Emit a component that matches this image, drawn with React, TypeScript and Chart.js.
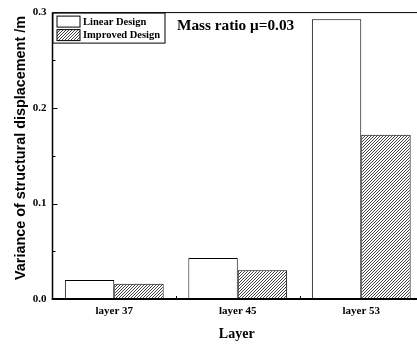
import React, { useEffect, useRef } from "react";
import { Chart, registerables } from "chart.js";

Chart.register(...registerables);

const categories = ["layer 37", "layer 45", "layer 53"];
const linearDesign = [0.02, 0.043, 0.293];
const improvedDesign = [0.016, 0.03, 0.172];
const yMin = 0;
const yMax = 0.3;
const yStep = 0.1;
const yMinorTicks = [0.05, 0.15, 0.25];
const legendLabels = ["Linear Design", "Improved Design"];
const annotationText = "Mass ratio \u03bc=0.03";
const xTitle = "Layer";
const yTitle = "Variance of structural displacement /m";

const SERIF = "'Liberation Serif', 'Times New Roman', serif";
const SANS = "'Liberation Sans', Arial, sans-serif";

function makeHatch(): CanvasPattern | string {
  const n = 3;
  const c = document.createElement("canvas");
  c.width = n;
  c.height = n;
  const g = c.getContext("2d");
  if (!g) return "#fff";
  g.fillStyle = "#fff";
  g.fillRect(0, 0, n, n);
  g.strokeStyle = "#000";
  g.lineWidth = 0.75;
  g.beginPath();
  g.moveTo(0, n);
  g.lineTo(n, 0);
  g.moveTo(-1, 1);
  g.lineTo(1, -1);
  g.moveTo(n - 1, n + 1);
  g.lineTo(n + 1, n - 1);
  g.stroke();
  const p = g.createPattern(c, "repeat");
  return p || "#fff";
}

export default function App() {
  const ref = useRef<HTMLCanvasElement | null>(null);

  useEffect(() => {
    const canvas = ref.current;
    if (!canvas) return;
    const hatch = makeHatch();

    const decor = {
      id: "decor",
      afterDraw(chart: any) {
        const ctx = chart.ctx;
        const area = chart.chartArea;
        const xs = chart.scales.x;
        const ys = chart.scales.y;
        ctx.save();
        ctx.strokeStyle = "#000";
        // frame top
        ctx.lineWidth = 1;
        ctx.beginPath();
        ctx.moveTo(area.left, area.top);
        ctx.lineTo(area.right, area.top);
        ctx.stroke();
        // left axis
        ctx.lineWidth = 1.5;
        ctx.beginPath();
        ctx.moveTo(area.left, area.top);
        ctx.lineTo(area.left, area.bottom);
        ctx.stroke();
        // y ticks
        ctx.lineWidth = 1;
        for (let v = yMin; v <= yMax + 1e-9; v += yStep) {
          const y = Math.round(ys.getPixelForValue(v)) + 0.5;
          ctx.beginPath();
          ctx.moveTo(area.left, y);
          ctx.lineTo(area.left + 5, y);
          ctx.stroke();
        }
        yMinorTicks.forEach((v) => {
          const y = Math.round(ys.getPixelForValue(v)) + 0.5;
          ctx.beginPath();
          ctx.moveTo(area.left, y);
          ctx.lineTo(area.left + 3, y);
          ctx.stroke();
        });
        // x boundary ticks
        for (let i = 0; i < categories.length - 1; i++) {
          const x =
            Math.round((xs.getPixelForValue(i) + xs.getPixelForValue(i + 1)) / 2) + 0.5;
          ctx.beginPath();
          ctx.moveTo(x, area.bottom);
          ctx.lineTo(x, area.bottom - 3);
          ctx.stroke();
        }
        // bottom axis
        ctx.lineWidth = 2;
        ctx.beginPath();
        ctx.moveTo(area.left - 0.75, area.bottom);
        ctx.lineTo(area.right, area.bottom);
        ctx.stroke();

        // titles
        ctx.fillStyle = "#000";
        ctx.textAlign = "center";
        ctx.textBaseline = "middle";
        ctx.font = `bold 14px ${SERIF}`;
        ctx.fillText(xTitle, (area.left + 423) / 2 - 1, 334);
        ctx.save();
        ctx.translate(21.5, 148);
        ctx.rotate(-Math.PI / 2);
        ctx.font = `bold 14.4px ${SANS}`;
        ctx.fillText(yTitle, 0, 0);
        ctx.restore();

        // annotation
        ctx.textAlign = "left";
        ctx.font = `bold 15.3px ${SERIF}`;
        ctx.fillText(annotationText, 177, 26);

        // legend
        const lx = area.left + 0.5;
        const ly = area.top + 0.5;
        ctx.lineWidth = 1;
        ctx.fillStyle = "#fff";
        ctx.fillRect(lx, ly, 112, 30);
        ctx.strokeRect(lx, ly, 112, 30);
        const fills = [chart.data.datasets[0].backgroundColor, chart.data.datasets[1].backgroundColor];
        legendLabels.forEach((lab, i) => {
          const sy = ly + 3 + i * 13.5;
          ctx.fillStyle = fills[i];
          ctx.fillRect(lx + 4, sy, 23, 11);
          ctx.strokeRect(lx + 4, sy, 23, 11);
          ctx.fillStyle = "#000";
          ctx.font = `bold 10.5px ${SERIF}`;
          ctx.textAlign = "left";
          ctx.fillText(lab, lx + 30, sy + 6);
        });
        ctx.restore();
      },
    };

    const chart = new Chart(canvas, {
      type: "bar",
      data: {
        labels: categories,
        datasets: [
          {
            label: legendLabels[0],
            data: linearDesign,
            backgroundColor: "#fff",
            borderColor: "#000",
            borderWidth: 1,
            barPercentage: 1,
            categoryPercentage: 0.8,
          },
          {
            label: legendLabels[1],
            data: improvedDesign,
            backgroundColor: hatch as any,
            borderColor: "#000",
            borderWidth: 1,
            barPercentage: 1,
            categoryPercentage: 0.8,
          },
        ],
      },
      options: {
        responsive: false,
        animation: false,
        devicePixelRatio: 1,
        layout: { padding: { left: 0, top: 12.5, right: 7, bottom: 0 } },
        plugins: { legend: { display: false }, tooltip: { enabled: false } },
        scales: {
          x: {
            grid: { display: false, drawTicks: false },
            border: { display: false },
            ticks: {
              color: "#000",
              font: { family: SERIF, size: 11, weight: "bold" },
              padding: 6,
            },
            afterFit: (s: any) => {
              s.height = 48;
            },
          },
          y: {
            min: yMin,
            max: yMax,
            grid: { display: false, drawTicks: false },
            border: { display: false },
            ticks: {
              stepSize: yStep,
              color: "#000",
              font: { family: SERIF, size: 11, weight: "bold" },
              padding: 6,
              callback: (v: any) => Number(v).toFixed(1),
            },
            afterFit: (s: any) => {
              s.width = 52.5;
            },
          },
        },
      },
      plugins: [decor],
    });
    return () => chart.destroy();
  }, []);

  return (
    <div
      style={{
        position: "absolute",
        left: 0,
        top: 0,
        width: 417,
        height: 347,
        overflow: "hidden",
        background: "#fff",
      }}
    >
      <canvas ref={ref} width={430} height={347} style={{ width: 430, height: 347 }} />
    </div>
  );
}
